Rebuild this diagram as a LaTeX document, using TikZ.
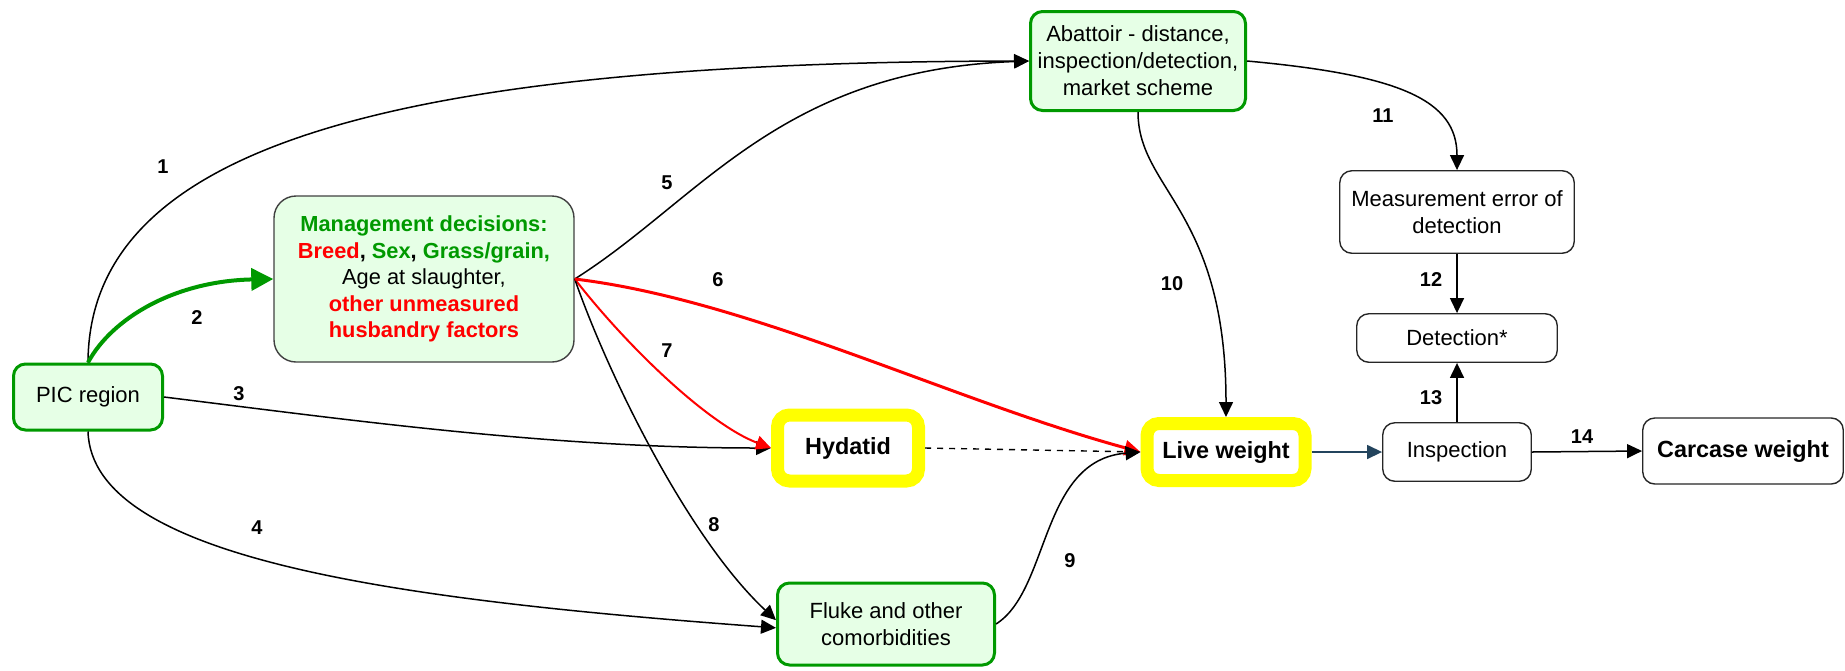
\documentclass[tikz,border=0pt]{standalone}
\usepackage{fontspec}
\setmainfont{Liberation Sans}
\usetikzlibrary{arrows.meta}
\definecolor{gfill}{HTML}{E6FFE6}
\definecolor{gline}{HTML}{009900}
\definecolor{gtext}{HTML}{009900}
\definecolor{rline}{HTML}{FF0000}
\definecolor{yline}{HTML}{FFFF00}
\definecolor{bluel}{HTML}{23445D}
\begin{document}
\begin{tikzpicture}[x=0.5pt,y=-0.5pt,
  base/.style={rectangle, rounded corners=6pt, align=center, inner sep=0pt,
    font=\fontsize{11}{13.5}\selectfont},
  gbox/.style={base, draw=gline, line width=1.5pt, fill=gfill},
  wbox/.style={base, draw=black!85, line width=0.7pt, fill=white},
  ybox/.style={base, draw=yline, line width=6.5pt, fill=white,
    font=\bfseries\fontsize{11.7}{14}\selectfont},
  lbl/.style={font=\bfseries\fontsize{10}{12}\selectfont, inner sep=0pt},
  arr/.style={-{Triangle[length=7.5pt,width=7pt]}, line width=0.75pt},
  redthick/.style={-{Triangle[length=8pt,width=7.5pt]}, line width=1.5pt, draw=rline, color=rline},
  redthin/.style={-{Triangle[length=7.5pt,width=7pt]}, line width=1pt, draw=rline, color=rline},
  greenarr/.style={-{Triangle[length=11pt,width=11pt]}, line width=2pt, draw=gline, color=gline}
]
\useasboundingbox (0,0) rectangle (1845,670);

% nodes
\node[gbox, minimum width=74.5pt, minimum height=33pt] (pic) at (88,397) {PIC region};
\node[base, draw=black!75, line width=0.7pt, fill=gfill, rounded corners=11pt,
  minimum width=150pt, minimum height=83pt, font=\fontsize{10.9}{13.25}\selectfont] (mgmt) at (424,279)
  {\textbf{\textcolor{gtext}{Management decisions:}}\\
   \textbf{\textcolor{rline}{Breed}, \textcolor{gtext}{Sex}, \textcolor{gtext}{Grass/grain,}}\\
   Age at slaughter,\\
   \textbf{\textcolor{rline}{other unmeasured}}\\
   \textbf{\textcolor{rline}{husbandry factors}}};
\node[gbox, minimum width=107.5pt, minimum height=49.5pt] (abat) at (1138,61)
  {Abattoir - distance,\\inspection/detection,\\market scheme};
\node[wbox, minimum width=117.25pt, minimum height=41.25pt] (meas) at (1457,212)
  {Measurement error of\\detection};
\node[wbox, minimum width=100.25pt, minimum height=24.25pt] (det) at (1457,338) {Detection*};
\node[wbox, minimum width=74.25pt, minimum height=29.25pt] (insp) at (1457,452) {Inspection};
\node[wbox, minimum width=100.25pt, minimum height=33pt,
  font=\bfseries\fontsize{11.7}{14}\selectfont] (carc) at (1743,451) {Carcase weight};
\node[ybox, minimum width=79pt, minimum height=28.5pt] (live) at (1226,452) {Live weight};
\node[ybox, minimum width=70.5pt, minimum height=33pt] (hyd) at (848,448) {Hydatid};
\node[gbox, minimum width=108.5pt, minimum height=41pt] (fluke) at (886,624)
  {Fluke and other\\comorbidities};

% labels
\node[lbl] (l1) at (163,167) {1};
\node[lbl] (l2) at (197,318) {2};
\node[lbl] (l3) at (239,394) {3};
\node[lbl] (l4) at (257,528) {4};
\node[lbl] (l5) at (667,183) {5};
\node[lbl] (l6) at (718,280) {6};
\node[lbl] (l7) at (667,351) {7};
\node[lbl] (l8) at (714,525) {8};
\node[lbl] (l9) at (1070,561) {9};
\node[lbl] (l10) at (1172,284) {10};
\node[lbl] (l11) at (1383,116) {11};
\node[lbl] (l12) at (1431,280) {12};
\node[lbl] (l13) at (1431,398) {13};
\node[lbl] (l14) at (1582,437) {14};

% connectors
\draw[arr] (pic.north) .. controls (89,150) and (380,62) .. (abat.west);
\draw[greenarr] (pic.north) .. controls (112,318) and (175,281) .. (mgmt.west);
\draw[arr] (pic.east) .. controls (350,420) and (550,448) .. (hyd.west);
\draw[arr] (pic.south) .. controls (92,560) and (400,600) .. (fluke.182);
\draw[arr] (mgmt.east) .. controls (700,200) and (780,70) .. (abat.west);
\draw[redthin] (mgmt.east) .. controls (630,350) and (710,425) .. (hyd.west);
\draw[arr] (mgmt.east) .. controls (610,380) and (690,540) .. (fluke.178);
\draw[dashed, dash pattern=on 3pt off 3pt, line width=0.7pt] (hyd.east) -- (live.west);
\draw[redthick] (mgmt.east) .. controls (750,300) and (950,400) .. (live.west);
\draw[arr] (fluke.east) .. controls (1050,590) and (1040,460) .. (live.west);
\draw[arr] (abat.south) .. controls (1138,190) and (1226,210) .. (live.north);
\draw[arr] (abat.east) .. controls (1400,75) and (1457,100) .. (meas.north);
\draw[arr] (meas.south) -- (det.north);
\draw[arr] (insp.north) -- (det.south);
\draw[arr] (insp.east) -- (carc.west);
\draw[arr, draw=bluel, color=bluel] (live.east) -- (insp.west);
\end{tikzpicture}
\end{document}
